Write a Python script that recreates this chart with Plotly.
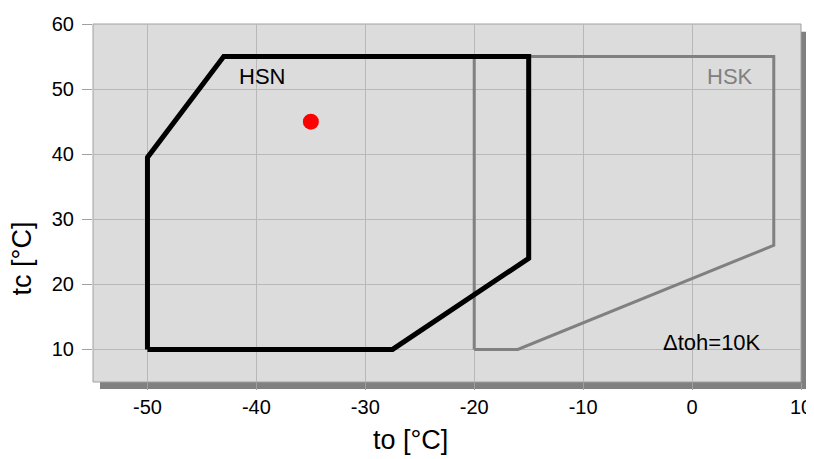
import plotly.graph_objects as go

hsn_to = [-50, -50, -43, -15, -15, -27.5, -50]
hsn_tc = [10, 39.5, 55, 55, 24, 10, 10]
hsk_to = [-20, -20, 7.5, 7.5, -16, -20]
hsk_tc = [10, 55, 55, 26, 10, 10]
point_to = [-35]
point_tc = [45]
x_ticks = [-50, -40, -30, -20, -10, 0, 10]
x_ticktext = ["-50", "-40", "-30", "-20", "-10", "0", "10"]
y_ticks = [10, 20, 30, 40, 50, 60]

fig = go.Figure()
fig.add_trace(go.Scatter(x=hsk_to, y=hsk_tc, mode="lines",
                         line=dict(color="#808080", width=3), hoverinfo="skip"))
fig.add_trace(go.Scatter(x=hsn_to, y=hsn_tc, mode="lines",
                         line=dict(color="#000000", width=5), hoverinfo="skip"))
fig.add_trace(go.Scatter(x=point_to, y=point_tc, mode="markers",
                         marker=dict(color="#ff0000", size=16), hoverinfo="skip"))

W, H = 708, 358
dx, dy = 7 / W, 7 / H
fig.add_shape(type="rect", xref="paper", yref="paper", x0=dx, x1=1 + dx, y0=-dy, y1=1 - 1.1 * dy,
              fillcolor="#808080", line=dict(width=0), layer="below")
fig.add_shape(type="rect", xref="paper", yref="paper", x0=0, x1=1, y0=0, y1=1,
              fillcolor="#dcdcdc", line=dict(width=1, color="#a0a0a0"), layer="below")

fig.add_annotation(x=-39.5, y=52, text="HSN", showarrow=False,
                   font=dict(size=22, color="#000000"))
fig.add_annotation(x=3.5, y=52, text="HSK", showarrow=False,
                   font=dict(size=22, color="#808080"))
fig.add_annotation(x=1.8, y=11, text="Δtoh=10K", showarrow=False,
                   font=dict(size=22, color="#000000"))

# axis titles (placed as in the reference, not centred on the plot area)
fig.add_annotation(xref="paper", yref="paper", x=0.448, y=-0.162, text="to [°C]",
                   showarrow=False, xanchor="center", yanchor="middle",
                   font=dict(size=27, color="#000000"))
fig.add_annotation(xref="paper", yref="paper", x=-0.099, y=0.345, text="tc [°C]",
                   showarrow=False, xanchor="center", yanchor="middle", textangle=-90,
                   font=dict(size=27, color="#000000"))

axis_common = dict(showgrid=True, gridcolor="#b8b8b8", gridwidth=1, zeroline=False,
                   ticks="outside", tickcolor="#a0a0a0", showline=False, automargin=False,
                   tickfont=dict(size=20, color="#000000"))
fig.update_xaxes(range=[-55, 10], tickvals=x_ticks, ticktext=x_ticktext, ticklen=7,
                 **axis_common)
fig.update_yaxes(range=[5, 60], tickvals=y_ticks, ticklen=10, ticklabelstandoff=4,
                 **axis_common)

# page body has an 8px margin, so the figure is sized/offset to place the plot area correctly
fig.update_layout(width=806, height=451, showlegend=False,
                  margin=dict(l=85, r=13, t=16, b=77),
                  plot_bgcolor="rgba(0,0,0,0)", paper_bgcolor="#ffffff",
                  font=dict(family="Liberation Sans, Arial, sans-serif"))
fig.write_html("out.html")
